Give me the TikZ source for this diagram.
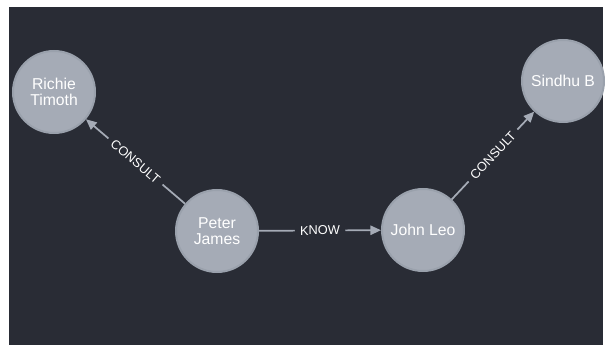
\documentclass[tikz,border=0pt]{standalone}
\usepackage{fontspec}
\setmainfont{Liberation Sans}
\usetikzlibrary{arrows.meta}

\begin{document}
\begin{tikzpicture}[x=0.75pt,y=-0.75pt,
    person/.style={circle, fill=nodeColour, draw=borderColour, line width=1.5pt,
        minimum size=61.5pt, inner sep=0pt, align=center, text=white,
        font=\fontsize{11.8}{11.8}\selectfont},
    relation/.style={draw=edgeColour, line width=1.3pt, -{Triangle[length=8pt,width=7pt]}},
    reltype/.style={fill=bgColour, text=white, inner xsep=4pt, inner ysep=1pt, sloped,
        font=\fontsize{9.6}{9.6}\selectfont}]
    % Define colours
    \definecolor{bgColour}{HTML}{292C35}
    \definecolor{nodeColour}{HTML}{A5ABB6}
    \definecolor{borderColour}{HTML}{9AA1AC}
    \definecolor{edgeColour}{HTML}{A5ABB6}

    % Canvas
    \useasboundingbox (0,0) rectangle (605,345);
    \fill[white] (0,0) rectangle (605,345);
    \fill[bgColour] (9,7) rectangle (603,345);

    % People
    \node[person] (richie) at (54,92) {Richie\\Timoth};
    \node[person] (peter) at (217,231) {Peter\\James};
    \node[person] (john) at (423,230) {John Leo};
    \node[person] (sindhu) at (563,81) {Sindhu B};

    % Relations
    \draw[relation] (peter) -- node[reltype] {CONSULT} (richie);
    \draw[relation] (peter) -- node[reltype] {KNOW} (john);
    \draw[relation] (john) -- node[reltype] {CONSULT} (sindhu);

\end{tikzpicture}
\end{document}
